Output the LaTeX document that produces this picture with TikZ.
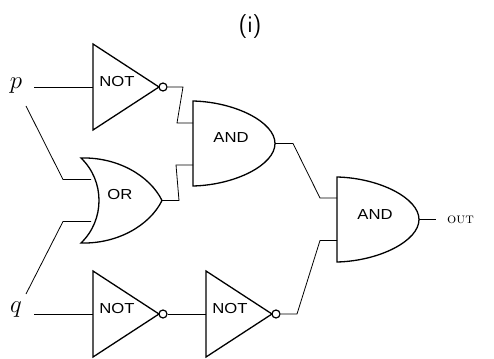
\documentclass[tikz,border=0pt]{standalone}
\usepackage{fontspec}
\newfontfamily\gatefont{Liberation Sans}
\tikzset{
  gate/.style={draw=black,line width=1.3pt,line join=miter},
  wire/.style={draw=black,line width=0.8pt,line join=miter},
  gatelabel/.style={inner sep=0pt,font=\gatefont\fontsize{14.5}{16}\selectfont},
  bubble/.style={circle,draw=black,line width=1.2pt,fill=white,minimum size=8pt,inner sep=0pt},
  mathlabel/.style={inner sep=0pt,font=\fontsize{24}{28}\selectfont},
  pin/.style={coordinate}
}
\newcommand{\glabel}[1]{\scalebox{1.15}[1]{#1}}
\begin{document}
\begin{tikzpicture}[x=1pt,y=-1pt]
\useasboundingbox (0,0) rectangle (494,358);
% gates
\draw[gate] (93,44) -- (159,87) -- (93,130) -- cycle;
\draw[gate] (93,271) -- (159,314) -- (93,357) -- cycle;
\draw[gate] (206,271) -- (272,314) -- (206,357) -- cycle;
\draw[gate] (193,101) .. controls (235,102) and (275,122) .. (275,143.5)
  .. controls (275,165) and (235,185) .. (193,186) -- cycle;
\draw[gate] (337,177) .. controls (379,178) and (419,198) .. (419,219.5)
  .. controls (419,241) and (379,261) .. (337,262) -- cycle;
\draw[gate] (81,158) .. controls (118,157) and (150,176) .. (162,200.5)
  .. controls (150,225) and (118,244) .. (81,243)
  .. controls (105,220) and (105,181) .. (81,158) -- cycle;
% bubbles
\node[bubble] (b1) at (163,87) {};
\node[bubble] (b2) at (163,314) {};
\node[bubble] (b3) at (276,314) {};
% labels
\node[gatelabel] (n1) at (117,82) {\glabel{NOT}};
\node[gatelabel] (n2) at (117,309) {\glabel{NOT}};
\node[gatelabel] (n3) at (230,309) {\glabel{NOT}};
\node[gatelabel] (a1) at (231,138) {\glabel{AND}};
\node[gatelabel] (a2) at (375,214.5) {\glabel{AND}};
\node[gatelabel] (o1) at (120,195) {\glabel{OR}};
\node[mathlabel] (p) at (16,86) {$p$};
\node[mathlabel] (q) at (16,310) {$q$};
\node[inner sep=0pt,anchor=west,font=\fontsize{14.5}{16}\selectfont] (out) at (447,219.5) {\textsc{out}};
\node[inner sep=0pt,font=\sffamily\fontsize{24}{28}\selectfont] (title) at (250,27) {(i)};
% pins
\coordinate (pa) at (34,87);
\coordinate (qa) at (34,314);
\coordinate (pb) at (26,106);
\coordinate (qb) at (26,294);
\coordinate (outa) at (436,219.5);
% wires
\draw[wire] (pa) -- (93,87);
\draw[wire] (qa) -- (93,314);
\draw[wire] (b2) -- (206,314);
\draw[wire] (b1) -- (183,87) -- (177,123) -- (193,123);
\draw[wire] (pb) -- (63,179.5) -- (91,179.5);
\draw[wire] (qb) -- (63,221.5) -- (91,221.5);
\draw[wire] (162,200.5) -- (179,200.5) -- (176,165) -- (193,165);
\draw[wire] (275,143.5) -- (293,143.5) -- (320,198) -- (337,198);
\draw[wire] (b3) -- (297,314) -- (320,240.5) -- (337,240.5);
\draw[wire] (419,219.5) -- (outa);
\end{tikzpicture}
\end{document}
